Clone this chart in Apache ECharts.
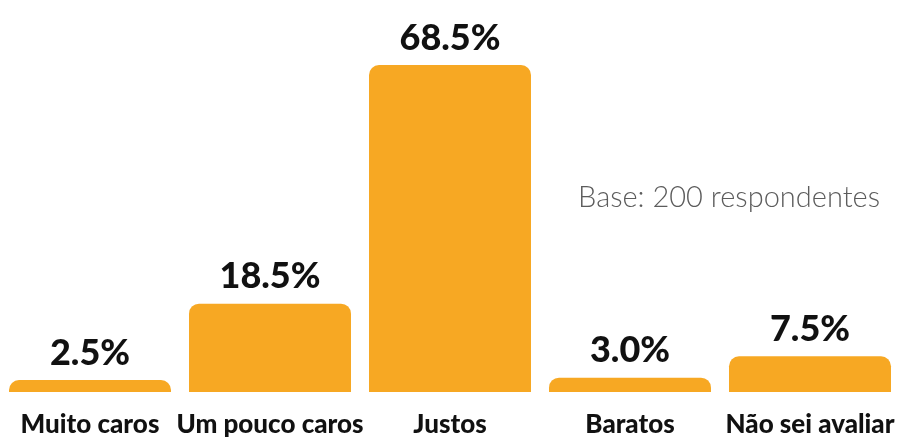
<!DOCTYPE html>
<html><head><meta charset="utf-8">
<script src="https://cdn.jsdelivr.net/npm/echarts@6/dist/echarts.min.js"></script>
<style>html,body{margin:0;padding:0;background:#fff}#c{width:904px;height:441px}</style>
</head><body><div id="c"></div>
<script>
const categories = ['Muito caros', 'Um pouco caros', 'Justos', 'Baratos', 'Não sei avaliar'];
const values = [2.5, 18.5, 68.5, 3.0, 7.5];
const note = 'Base: 200 respondentes';

const chart = echarts.init(document.getElementById('c'));
chart.setOption({
  animation: false,
  grid: { left: 0, right: 4, top: 65, bottom: 49 },
  xAxis: {
    type: 'category', data: categories,
    axisLine: { show: false }, axisTick: { show: false },
    axisLabel: { interval: 0, margin: 20, color: '#111', fontFamily: 'Lato', fontWeight: 900, fontSize: 26 }
  },
  yAxis: { type: 'value', min: 0, max: 68.5, show: false, splitLine: { show: false } },
  series: [{
    type: 'bar', data: values, barWidth: '90%',
    itemStyle: { color: '#F7A823', borderRadius: [10, 10, 0, 0] },
    label: {
      show: true, position: 'top', distance: 9, color: '#111',
      fontFamily: 'Lato', fontWeight: 900, fontSize: 36,
      formatter: p => p.value.toFixed(1) + '%'
    }
  }],
  graphic: [{
    type: 'text', right: 24, top: 183,
    style: { text: note, fill: '#5c5c5c', fontFamily: 'Lato', fontWeight: 300, fontSize: 29 }
  }]
});
</script></body></html>
